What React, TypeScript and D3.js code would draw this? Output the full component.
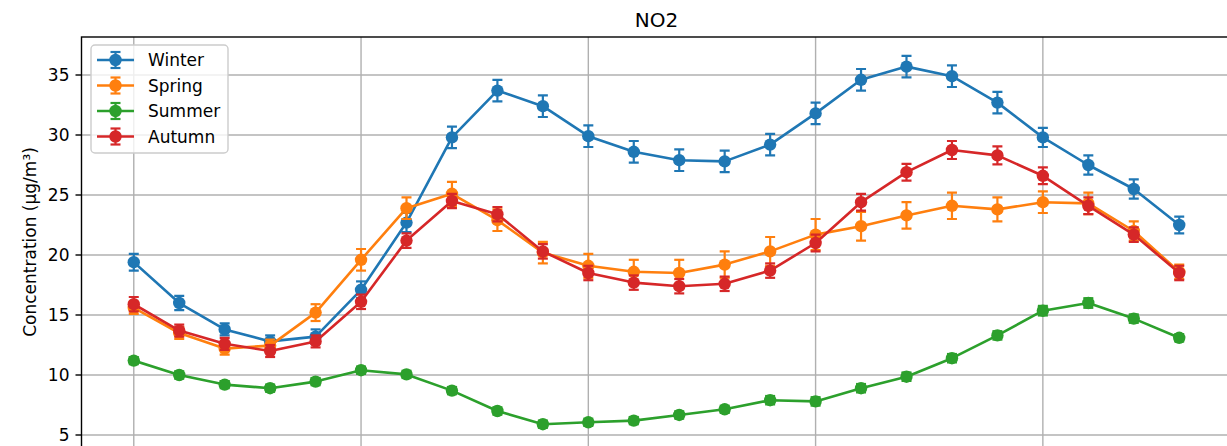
import React from "react";
import * as d3 from "d3";

const hours = d3.range(24);
const winter = [19.4, 16.0, 13.8, 12.8, 13.2, 17.1, 22.7, 29.8, 33.7, 32.4, 29.9, 28.6, 27.9, 27.8, 29.2, 31.8, 34.6, 35.7, 34.9, 32.7, 29.8, 27.5, 25.5, 22.5];
const winterErr = [0.7, 0.6, 0.5, 0.5, 0.6, 0.7, 0.8, 0.9, 0.9, 0.9, 0.9, 0.9, 0.9, 0.9, 0.9, 0.9, 0.9, 0.9, 0.9, 0.9, 0.8, 0.8, 0.8, 0.7];
const spring = [15.6, 13.5, 12.2, 12.45, 15.2, 19.6, 23.9, 25.1, 22.9, 20.2, 19.1, 18.6, 18.5, 19.2, 20.3, 21.7, 22.4, 23.3, 24.1, 23.8, 24.4, 24.3, 22.0, 18.6];
const springErr = [0.5, 0.5, 0.5, 0.5, 0.7, 0.9, 0.9, 1.0, 0.9, 0.9, 1.0, 1.0, 1.1, 1.1, 1.2, 1.3, 1.2, 1.1, 1.1, 1.0, 0.9, 0.9, 0.8, 0.6];
const summer = [11.2, 10.0, 9.2, 8.9, 9.45, 10.4, 10.05, 8.7, 7.0, 5.9, 6.06, 6.2, 6.67, 7.14, 7.9, 7.8, 8.9, 9.86, 11.4, 13.3, 15.36, 16.0, 14.7, 13.1];
const summerErr = [0.3, 0.3, 0.3, 0.3, 0.3, 0.3, 0.3, 0.3, 0.3, 0.3, 0.3, 0.3, 0.3, 0.3, 0.35, 0.35, 0.35, 0.35, 0.35, 0.35, 0.4, 0.4, 0.35, 0.3];
const autumn = [15.9, 13.7, 12.6, 12.0, 12.8, 16.1, 21.2, 24.5, 23.4, 20.3, 18.5, 17.7, 17.4, 17.6, 18.7, 21.0, 24.4, 26.9, 28.75, 28.3, 26.6, 24.1, 21.7, 18.5];
const autumnErr = [0.6, 0.5, 0.5, 0.5, 0.5, 0.6, 0.6, 0.6, 0.6, 0.6, 0.6, 0.6, 0.6, 0.6, 0.6, 0.7, 0.7, 0.7, 0.75, 0.75, 0.7, 0.7, 0.6, 0.6];

const seriesNames = ["Winter", "Spring", "Summer", "Autumn"];
const seriesValues = [winter, spring, summer, autumn];
const seriesErrors = [winterErr, springErr, summerErr, autumnErr];
const colors = ["#1f77b4", "#ff7f0e", "#2ca02c", "#d62728"];
const yTicks = [5, 10, 15, 20, 25, 30, 35];
const xGridTicks = [0, 5, 10, 15, 20];

const W = 1227;
const H = 446;
const FONT = "DejaVu Sans, sans-serif";

export default function App() {
  const left = 81.5;
  const right = 1231.5;
  const top = 37;
  const bottom = 447;
  const x = d3.scaleLinear().domain([-1.15, 24.15]).range([left, right]);
  const y = d3.scaleLinear().domain([4.0, 38.167]).range([bottom, top]);
  const line = d3
    .line<number>()
    .x((_, i) => x(hours[i]))
    .y((d) => y(d));
  const lw = 2.6;
  const cap = 5;
  const r = 6.2;

  return (
    <div style={{ position: "absolute", left: 0, top: 0 }}>
      <svg width={W} height={H} style={{ display: "block", background: "#fff" }}>
        <defs>
          <clipPath id="plotclip">
            <rect x={left} y={top} width={right - left} height={bottom - top} />
          </clipPath>
        </defs>
        {/* grid */}
        {yTicks.map((t) => (
          <line key={"gy" + t} x1={left} x2={right} y1={y(t)} y2={y(t)} stroke="#b0b0b0" strokeWidth={1.4} />
        ))}
        {xGridTicks.map((t) => (
          <line key={"gx" + t} x1={x(t)} x2={x(t)} y1={top} y2={bottom} stroke="#b0b0b0" strokeWidth={1.4} />
        ))}
        {/* series */}
        <g clipPath="url(#plotclip)">
          {seriesValues.map((vals, si) => (
            <g key={seriesNames[si]}>
              <path d={line(vals) || ""} fill="none" stroke={colors[si]} strokeWidth={lw} strokeLinejoin="round" strokeLinecap="square" />
              {vals.map((v, i) => {
                const e = seriesErrors[si][i];
                const cx = x(hours[i]);
                return (
                  <g key={i} stroke={colors[si]} strokeWidth={2.2}>
                    <line x1={cx} x2={cx} y1={y(v - e)} y2={y(v + e)} />
                    <line x1={cx - cap} x2={cx + cap} y1={y(v - e)} y2={y(v - e)} />
                    <line x1={cx - cap} x2={cx + cap} y1={y(v + e)} y2={y(v + e)} />
                  </g>
                );
              })}
              {vals.map((v, i) => (
                <circle key={"c" + i} cx={x(hours[i])} cy={y(v)} r={r} fill={colors[si]} />
              ))}
            </g>
          ))}
        </g>
        {/* spines */}
        <rect x={left} y={top} width={right - left} height={bottom - top} fill="none" stroke="#000" strokeWidth={1.4} />
        {/* y ticks */}
        {yTicks.map((t) => (
          <g key={"ty" + t}>
            <line x1={left - 6} x2={left} y1={y(t)} y2={y(t)} stroke="#000" strokeWidth={1.4} />
            <text x={left - 12} y={y(t)} dy="0.36em" textAnchor="end" fontFamily={FONT} fontSize={17} fill="#000">
              {t}
            </text>
          </g>
        ))}
        {/* title */}
        <text x={(left + right) / 2} y={27.3} textAnchor="middle" fontFamily={FONT} fontSize={20} fill="#000">
          NO2
        </text>
        {/* y label */}
        <text
          transform={`translate(36, 242) rotate(-90)`}
          textAnchor="middle"
          fontFamily={FONT}
          fontSize={17}
          fill="#000"
        >
          Concentration (µg/m³)
        </text>
        {/* legend */}
        <g>
          <rect x={91} y={45} width={137} height={108} rx={4} fill="#fff" fillOpacity={0.8} stroke="#cccccc" strokeWidth={1.4} />
          {seriesNames.map((name, i) => {
            const ly = 60 + i * 25.5;
            return (
              <g key={name}>
                <line x1={97} x2={134} y1={ly} y2={ly} stroke={colors[i]} strokeWidth={lw} />
                <line x1={115.5} x2={115.5} y1={ly - 8} y2={ly + 8} stroke={colors[i]} strokeWidth={2.2} />
                <line x1={115.5 - cap} x2={115.5 + cap} y1={ly - 8} y2={ly - 8} stroke={colors[i]} strokeWidth={2.2} />
                <line x1={115.5 - cap} x2={115.5 + cap} y1={ly + 8} y2={ly + 8} stroke={colors[i]} strokeWidth={2.2} />
                <circle cx={115.5} cy={ly} r={r} fill={colors[i]} />
                <text x={148} y={ly} dy="0.36em" fontFamily={FONT} fontSize={17} fill="#000">
                  {name}
                </text>
              </g>
            );
          })}
        </g>
      </svg>
    </div>
  );
}
